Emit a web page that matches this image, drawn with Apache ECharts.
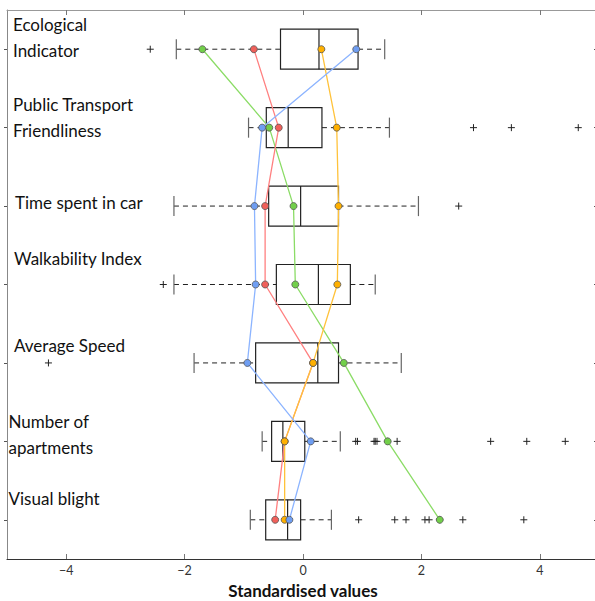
<!DOCTYPE html>
<html><head><meta charset="utf-8">
<script src="https://cdn.jsdelivr.net/npm/echarts@6/dist/echarts.min.js"></script>
<style>html,body{margin:0;padding:0;background:#fff}#c{width:595px;height:601px}</style>
</head><body><div id="c"></div>
<script>
// ---- data ----
const categories = ['Ecological\nIndicator', 'Public Transport\nFriendliness', 'Time spent in car',
  'Walkability Index', 'Average Speed', 'Number of\napartments', 'Visual blight'];
const whiskerLow  = [-2.14, -0.92, -2.18, -2.18, -1.84, -0.69, -0.89];
const q1          = [-0.38, -0.62, -0.58, -0.45, -0.80, -0.53, -0.63];
const median      = [ 0.27, -0.25, -0.04,  0.26,  0.25, -0.34, -0.26];
const q3          = [ 0.93,  0.32,  0.60,  0.80,  0.60,  0.03, -0.04];
const whiskerHigh = [ 1.38,  1.46,  1.95,  1.22,  1.66,  0.63,  0.48];
const outliers = [
  [-2.58],
  [2.88, 3.52, 4.65],
  [2.63],
  [-2.36],
  [-4.30],
  [0.89, 0.92, 1.20, 1.22, 1.25, 1.43, 1.59, 3.17, 3.78, 4.43],
  [0.94, 1.55, 1.74, 2.06, 2.13, 2.31, 2.70, 3.73]
];
const greenValues  = [-1.70, -0.57, -0.16, -0.13,  0.69,  1.43,  2.31];
const redValues    = [-0.83, -0.41, -0.64, -0.64,  0.17, -0.31, -0.47];
const orangeValues = [ 0.31,  0.57,  0.60,  0.58,  0.17, -0.31, -0.31];
const blueValues   = [ 0.90, -0.69, -0.82, -0.80, -0.94,  0.13, -0.23];
const xTicks = [-4, -2, 0, 2, 4];

// ---- styles ----
const FONT = 'Lato, "Noto Sans", sans-serif';
const labelOffsets = [[6, -12], [6, -10], [8, -4], [7, -26], [7, -17], [1.5, -7], [1.5, -21]];
const lineDefs = [
  {name: 'green', values: greenValues, line: '#8bdc66', dot: '#72cf4a'},
  {name: 'red', values: redValues, line: '#ff8080', dot: '#f0605a'},
  {name: 'orange', values: orangeValues, line: '#ffc23a', dot: '#ffb000'},
  {name: 'blue', values: blueValues, line: '#8cb4ff', dot: '#6f9ef2'}
];

const boxData = categories.map((c, i) => [i, whiskerLow[i], q1[i], median[i], q3[i], whiskerHigh[i]]);
const outlierData = [];
outliers.forEach((arr, i) => arr.forEach(v => outlierData.push([v, i])));

function renderBox(params, api) {
  const i = api.value(0);
  const band = api.size([0, 1])[1];
  const h = band * 0.51, cap = band * 0.128;
  const pL = api.coord([api.value(1), i]);
  const pQ1 = api.coord([api.value(2), i]);
  const pM = api.coord([api.value(3), i]);
  const pQ3 = api.coord([api.value(4), i]);
  const pH = api.coord([api.value(5), i]);
  const y = pM[1];
  const dash = {stroke: '#222', lineWidth: 1, lineDash: [5, 4]};
  const solid = {stroke: '#222', lineWidth: 1.2};
  return {type: 'group', children: [
    {type: 'line', shape: {x1: pL[0], y1: y, x2: pQ1[0], y2: y}, style: dash},
    {type: 'line', shape: {x1: pQ3[0], y1: y, x2: pH[0], y2: y}, style: dash},
    {type: 'line', shape: {x1: pL[0], y1: y - cap, x2: pL[0], y2: y + cap}, style: {stroke: '#666', lineWidth: 1.2}},
    {type: 'line', shape: {x1: pH[0], y1: y - cap, x2: pH[0], y2: y + cap}, style: {stroke: '#666', lineWidth: 1.2}},
    {type: 'rect', shape: {x: pQ1[0], y: y - h / 2, width: pQ3[0] - pQ1[0], height: h}, style: {stroke: '#222', fill: 'none', lineWidth: 1.2}},
    {type: 'line', shape: {x1: pM[0], y1: y - h / 2, x2: pM[0], y2: y + h / 2}, style: solid}
  ]};
}
function renderOutlier(params, api) {
  const p = api.coord([api.value(0), api.value(1)]);
  const s = 3.5;
  return {type: 'group', children: [
    {type: 'line', shape: {x1: p[0] - s, y1: p[1], x2: p[0] + s, y2: p[1]}, style: {stroke: '#222', lineWidth: 1}},
    {type: 'line', shape: {x1: p[0], y1: p[1] - s, x2: p[0], y2: p[1] + s}, style: {stroke: '#222', lineWidth: 1}}
  ]};
}
function renderLabel(params, api) {
  const i = api.value(0);
  const p = api.coord([-5, i]);
  const off = labelOffsets[i];
  return {type: 'text', x: p[0] + off[0], y: p[1] + off[1],
    style: {text: categories[i], font: '17px ' + FONT, fill: '#111', lineHeight: 26,
      verticalAlign: 'middle', align: 'left'}};
}

const series = [
  {type: 'custom', name: 'box', renderItem: renderBox, data: boxData, encode: {x: [1, 2, 3, 4, 5], y: 0}, z: 2, silent: true},
  {type: 'custom', name: 'outliers', renderItem: renderOutlier, data: outlierData, encode: {x: 0, y: 1}, z: 2, silent: true},
  {type: 'custom', name: 'labels', renderItem: renderLabel, data: categories.map((c, i) => [i]), encode: {y: 0}, z: 5, silent: true}
];
lineDefs.forEach(d => {
  series.push({
    type: 'line', name: d.name, data: d.values.map((v, i) => [v, i]),
    symbol: 'circle', symbolSize: 7, z: 4,
    lineStyle: {color: d.line, width: 1.3},
    itemStyle: {color: d.dot, borderColor: '#555', borderWidth: 0.8},
    silent: true
  });
});

const chart = echarts.init(document.getElementById('c'), null, {renderer: 'svg'});
chart.setOption({
  animation: false,
  backgroundColor: '#fff',
  grid: {left: 7, right: -4, top: 10, bottom: 42, containLabel: false, outerBoundsMode: 'none'},
  xAxis: [
    {type: 'value', min: -5, max: 5, position: 'bottom',
      name: 'Standardised values', nameLocation: 'middle', nameGap: 20,
      nameTextStyle: {fontFamily: FONT, fontWeight: 'bold', fontSize: 17, color: '#111'},
      axisLine: {show: true, onZero: false, lineStyle: {color: '#333', width: 1.2}},
      axisTick: {show: true, inside: true, length: 5, customValues: xTicks, lineStyle: {color: '#777'}},
      axisLabel: {customValues: xTicks, margin: 5, fontSize: 12.5, color: '#333', fontFamily: FONT,
        formatter: v => String(v).replace('-', '\u2212')},
      splitLine: {show: false}},
    {type: 'value', min: -5, max: 5, position: 'top',
      axisLine: {show: true, onZero: false, lineStyle: {color: '#999', width: 1}},
      axisTick: {show: true, inside: true, length: 5, customValues: xTicks, lineStyle: {color: '#777'}},
      axisLabel: {show: false}, splitLine: {show: false}}
  ],
  yAxis: [
    {type: 'category', data: categories, inverse: true, position: 'left',
      axisLine: {show: true, onZero: false, lineStyle: {color: '#888', width: 1}},
      axisTick: {show: true, alignWithLabel: true, length: 3, lineStyle: {color: '#555'}},
      axisLabel: {show: false}, splitLine: {show: false}},
    {type: 'category', data: categories, inverse: true, position: 'right',
      axisLine: {show: true, onZero: false, lineStyle: {color: '#888', width: 1}},
      axisTick: {show: true, inside: true, alignWithLabel: true, length: 5, lineStyle: {color: '#555'}},
      axisLabel: {show: false}, splitLine: {show: false}}
  ],
  series: series
});
</script>
</body></html>
